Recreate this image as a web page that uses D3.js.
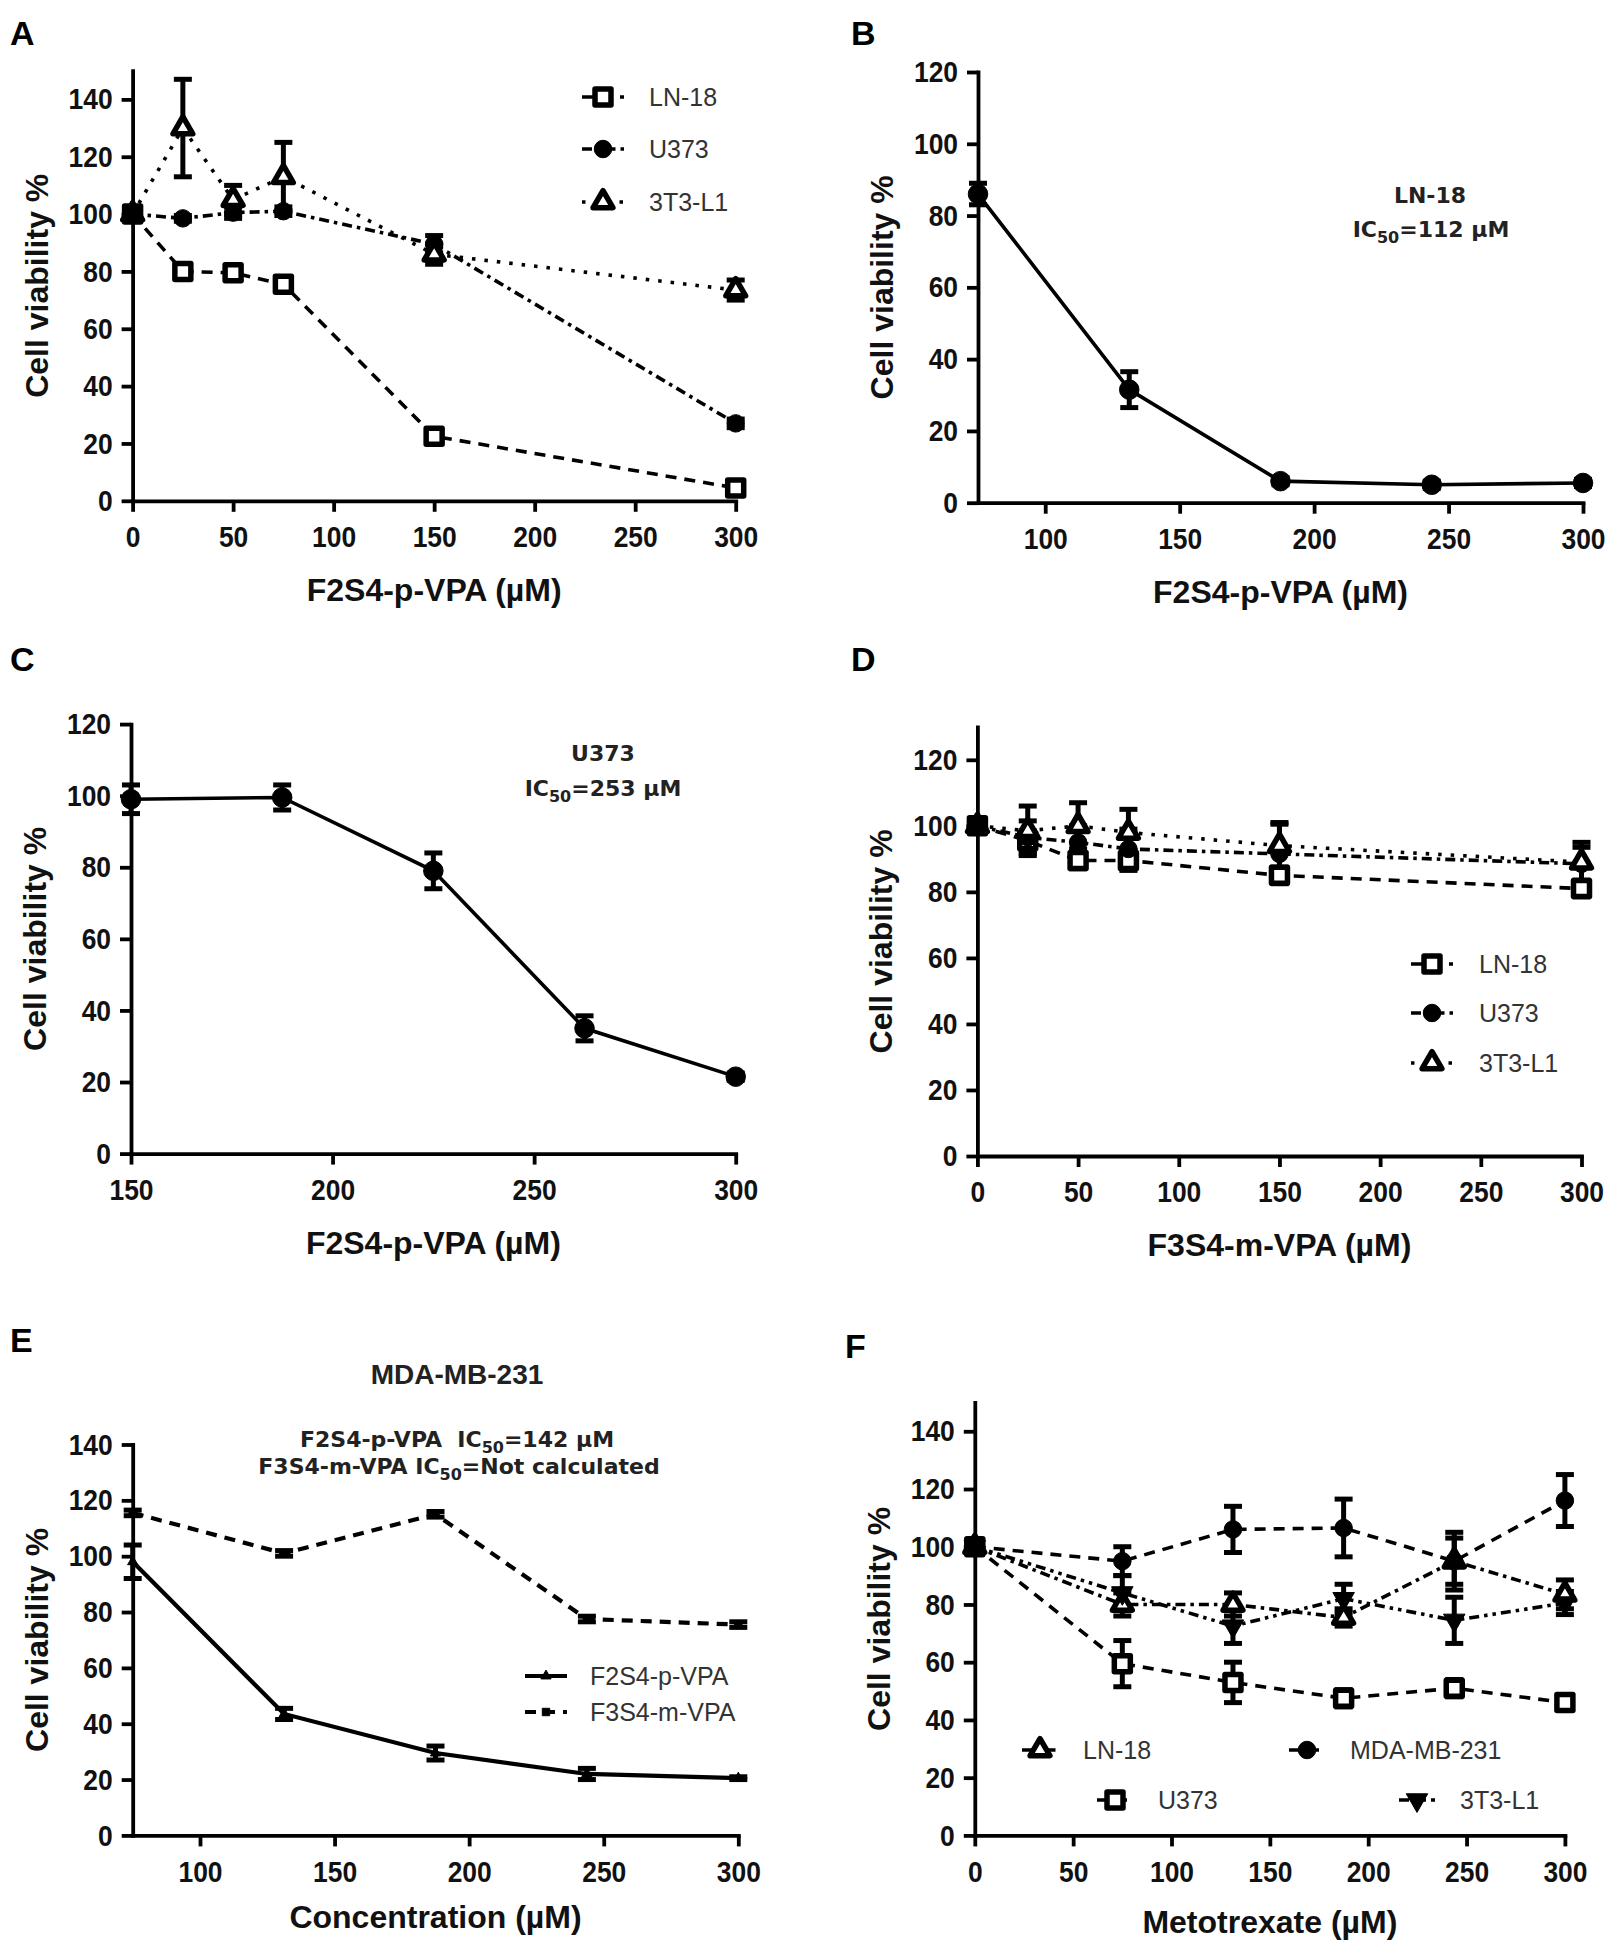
<!DOCTYPE html>
<html>
<head>
<meta charset="utf-8">
<script src="https://cdn.jsdelivr.net/npm/d3@7"></script>
<style>
  body { margin: 0; background: #fff; }
  svg { display: block; }
</style>
</head>
<body>
<svg id="fig" width="1622" height="1944"></svg>
<script>
// ---- data ----
// A: F2S4-p-VPA on three cell lines
var concA = [0, 25, 50, 75, 150, 300];
var aLN18 = [100, 80, 79.5, 75.5, 22.5, 4.5];
var aLN18Sem = [0, 2, 1.5, 2, 2.5, 1.5];
var aU373 = [100, 98.5, 100.5, 101, 89.5, 27];
var aU373Sem = [0, 1, 2, 1.5, 3, 1.5];
var a3T3 = [100, 130, 105, 113, 86, 73.5];
var a3T3Sem = [0, 17, 5, 12, 3.5, 3.5];

// B: LN-18
var concB = [75, 131.25, 187.5, 243.75, 300];
var bLN18 = [86, 31.5, 6, 5, 5.5];
var bLN18Sem = [3, 5, 1, 1, 1];

// C: U373
var concC = [150, 187.5, 225, 262.5, 300];
var cU373 = [99, 99.5, 79, 35, 21.5];
var cU373Sem = [4, 3.5, 5, 3.5, 1];

// D: F3S4-m-VPA on three cell lines
var concD = [0, 25, 50, 75, 150, 300];
var dLN18 = [100, 95.5, 89.5, 89.5, 85, 81];
var dLN18Sem = [0, 3, 2.5, 3, 2.5, 2.5];
var dU373 = [100, 96.5, 95, 93, 91.5, 88.5];
var dU373Sem = [0, 5, 5, 6, 9, 5];
var d3T3 = [100, 98.5, 100, 98, 94, 89];
var d3T3Sem = [0, 7.5, 7, 7, 7, 6];

// E: MDA-MB-231
var concE = [75, 131.25, 187.5, 243.75, 300];
var eF2S4 = [98, 43.5, 29.5, 22, 20.5];
var eF2S4Sem = [6, 2, 2.5, 2, 0.5];
var eF3S4 = [115.5, 101, 115, 77.5, 75.5];
var eF3S4Sem = [1, 1, 1, 1, 1];

// F: Metotrexate
var concF = [0, 75, 131.25, 187.5, 243.75, 300];
var fLN18 = [100, 80, 80, 75.5, 95, 83.5];
var fLN18Sem = [0, 4, 4, 3, 8, 5];
var fMDA = [100, 95, 106, 106.5, 95, 116];
var fMDASem = [0, 5, 8, 10, 10, 9];
var fU373 = [100, 59.5, 53, 47.5, 51, 46];
var fU373Sem = [0, 8, 7, 3, 3, 2];
var f3T3 = [100, 84, 72.5, 82, 74.5, 80.5];
var f3T3Sem = [0, 6, 6, 5, 8, 4];

var ticks0to300 = [0, 50, 100, 150, 200, 250, 300];
var ticks100to300 = [100, 150, 200, 250, 300];
var ticks150to300 = [150, 200, 250, 300];
var yTicks120 = [0, 20, 40, 60, 80, 100, 120];
var yTicks140 = [0, 20, 40, 60, 80, 100, 120, 140];

var FONT = '"Liberation Sans", Arial, Helvetica, sans-serif';
var NOTE_FONT = '"DejaVu Sans", Verdana, sans-serif';
var DASHED = "11,8", DASHDOT = "10,5,3.5,5", DOTTED = "3.5,9";
var NARROW = 0.88;   // tick labels in the figure are a condensed bold face

var svg = d3.select("#fig");

var symbolTypes = {
    square: d3.symbolSquare,
    circle: d3.symbolCircle,
    triangle: d3.symbolTriangle,
    down: d3.symbolTriangle
};

function addMarker(g, s, cx, cy, filled) {
    g.append("path")
        .attr("d", d3.symbol().type(symbolTypes[s.kind]).size(s.size || 300)())
        .attr("transform", "translate(" + cx + "," + cy + ")" + (s.kind == "down" ? " rotate(180)" : ""))
        .attr("fill", (s.open && !filled) ? "#fff" : "#000")
        .attr("stroke", "#000")
        .attr("stroke-linejoin", "round")
        .attr("stroke-width", s.open ? 5.5 : 1);
}

function drawPanel(p) {
    var x = d3.scaleLinear().domain(p.xDomain).range([p.left, p.right]);
    var y = d3.scaleLinear().domain(p.yDomain).range([p.bottom, p.top]);
    var g = svg.append("g");

    g.append("text").attr("x", p.letter[1]).attr("y", p.letter[2])
        .attr("font-family", FONT).attr("font-weight", "bold").attr("font-size", 34)
        .text(p.letter[0]);

    var gx = g.append("g").attr("transform", "translate(0," + p.bottom + ")")
        .call(d3.axisBottom(x).tickValues(p.xTicks).tickSize(11).tickSizeOuter(0).tickPadding(14).tickFormat(d3.format("d")));
    var gy = g.append("g").attr("transform", "translate(" + p.left + ",0)")
        .call(d3.axisLeft(y).tickValues(p.yTicks).tickSize(11).tickSizeOuter(0).tickPadding(9).tickFormat(d3.format("d")));
    g.selectAll(".domain").attr("stroke", "#000").attr("stroke-width", 3.8).attr("stroke-linecap", "square");
    g.selectAll(".tick line").attr("stroke", "#000").attr("stroke-width", 3.8);
    g.selectAll(".tick text").attr("font-family", FONT).attr("font-size", 30)
        .attr("font-weight", "bold").attr("fill", "#111")
        .attr("transform", "scale(" + NARROW + ",1)");
    gy.selectAll(".tick text").attr("x", -20 / NARROW);

    g.append("text")
        .attr("transform", "translate(" + (p.left - 85) + "," + ((p.top + p.bottom) / 2) + ") rotate(-90)")
        .attr("text-anchor", "middle").attr("font-family", FONT).attr("font-weight", "bold")
        .attr("font-size", 32).attr("fill", "#111").text("Cell viability %");
    g.append("text")
        .attr("x", (p.left + p.right) / 2).attr("y", p.bottom + (p.xTitleDy || 100))
        .attr("text-anchor", "middle").attr("font-family", FONT).attr("font-weight", "bold")
        .attr("font-size", 32).attr("fill", "#111").text(p.xTitle);

    var line = d3.line().x(function (d) { return x(d.x); }).y(function (d) { return y(d.y); });
    var rows = p.series.map(function (s) {
        return s.x.map(function (v, i) { return { x: v, y: s.y[i], e: s.sem[i] }; });
    });

    p.series.forEach(function (s, k) {
        g.append("path").datum(rows[k]).attr("d", line)
            .attr("fill", "none").attr("stroke", "#000")
            .attr("stroke-width", s.width || 3.6)
            .attr("stroke-dasharray", s.dash || null);
    });

    p.series.forEach(function (s, k) {
        rows[k].filter(function (d) { return d.e > 0; }).forEach(function (d) {
            var cx = x(d.x), y1 = y(d.y + d.e), y2 = y(d.y - d.e);
            g.append("line").attr("x1", cx).attr("x2", cx).attr("y1", y1).attr("y2", y2)
                .attr("stroke", "#000").attr("stroke-width", 5);
            [y1, y2].forEach(function (yy) {
                g.append("line").attr("x1", cx - 9).attr("x2", cx + 9).attr("y1", yy).attr("y2", yy)
                    .attr("stroke", "#000").attr("stroke-width", 5);
            });
        });
    });

    p.series.forEach(function (s, k) {
        rows[k].forEach(function (d) {
            addMarker(g, s, x(d.x), y(d.y), d.x === 0);
        });
    });

    if (p.legend) {
        p.legend.items.forEach(function (pos, k) {
            var s = p.series[k];
            g.append("line").attr("x1", pos[0] - p.legend.half).attr("x2", pos[0] + p.legend.half)
                .attr("y1", pos[1]).attr("y2", pos[1])
                .attr("stroke", "#000").attr("stroke-width", s.width || 3.6)
                .attr("stroke-dasharray", s.dash || null);
            addMarker(g, s, pos[0], pos[1], false);
            g.append("text").attr("x", pos[0] + p.legend.textDx).attr("y", pos[1] + 9)
                .attr("font-family", FONT).attr("font-size", 25).attr("fill", "#333")
                .text(s.label);
        });
    }

    (p.notes || []).forEach(function (n) {
        var t = g.append("text").attr("x", n.x).attr("y", n.y).attr("text-anchor", "middle")
            .attr("font-family", n.font || NOTE_FONT).attr("font-weight", "bold")
            .attr("font-size", n.size || 22).attr("fill", "#222");
        t.append("tspan").text(n.text);
        if (n.sub) {
            t.append("tspan").attr("font-size", 16).attr("dy", 6).text(n.sub);
            t.append("tspan").attr("dy", -6).text(n.rest);
        }
    });
}

drawPanel({
    letter: ["A", 10, 45],
    left: 132.6, right: 735.7, bottom: 500.8, top: 70.7,
    xDomain: [0, 300], yDomain: [0, 150], xTicks: ticks0to300, yTicks: yTicks140,
    xTitle: "F2S4-p-VPA (\u00b5M)",
    series: [
        { label: "LN-18", x: concA, y: aLN18, sem: aLN18Sem, kind: "square", open: true, size: 256, dash: DASHED },
        { label: "U373", x: concA, y: aU373, sem: aU373Sem, kind: "circle", size: 240, dash: DASHDOT },
        { label: "3T3-L1", x: concA, y: a3T3, sem: a3T3Sem, kind: "triangle", open: true, size: 170, dash: DOTTED }
    ],
    legend: { items: [[603, 97], [603, 149], [603, 202]], half: 21, textDx: 46 }
});

drawPanel({
    letter: ["B", 851, 45],
    left: 978, right: 1583, bottom: 502.7, top: 72,
    xDomain: [75, 300], yDomain: [0, 120], xTicks: ticks100to300, yTicks: yTicks120,
    xTitle: "F2S4-p-VPA (\u00b5M)",
    series: [
        { label: "LN-18", x: concB, y: bLN18, sem: bLN18Sem, kind: "circle", size: 300 }
    ],
    notes: [
        { x: 1430, y: 203, text: "LN-18" },
        { x: 1431, y: 237, text: "IC", sub: "50", rest: "=112 \u00b5M" }
    ]
});

drawPanel({
    letter: ["C", 10, 671],
    left: 131, right: 735.7, bottom: 1153.6, top: 724.1,
    xDomain: [150, 300], yDomain: [0, 120], xTicks: ticks150to300, yTicks: yTicks120,
    xTitle: "F2S4-p-VPA (\u00b5M)",
    series: [
        { label: "U373", x: concC, y: cU373, sem: cU373Sem, kind: "circle", size: 300 }
    ],
    notes: [
        { x: 603, y: 761, text: "U373" },
        { x: 603, y: 796, text: "IC", sub: "50", rest: "=253 \u00b5M" }
    ]
});

drawPanel({
    letter: ["D", 851, 671],
    left: 977.4, right: 1581.5, bottom: 1156, top: 726.8,
    xDomain: [0, 300], yDomain: [0, 130], xTicks: ticks0to300, yTicks: yTicks120,
    xTitle: "F3S4-m-VPA (\u00b5M)",
    series: [
        { label: "LN-18", x: concD, y: dLN18, sem: dLN18Sem, kind: "square", open: true, size: 256, dash: DASHED },
        { label: "U373", x: concD, y: dU373, sem: dU373Sem, kind: "circle", size: 240, dash: DASHDOT },
        { label: "3T3-L1", x: concD, y: d3T3, sem: d3T3Sem, kind: "triangle", open: true, size: 170, dash: DOTTED }
    ],
    legend: { items: [[1432, 964], [1432, 1013], [1432, 1063]], half: 21, textDx: 47 }
});

drawPanel({
    letter: ["E", 10, 1352],
    left: 132.7, right: 738.3, bottom: 1835.4, top: 1444.5,
    xDomain: [75, 300], yDomain: [0, 140], xTicks: ticks100to300, yTicks: yTicks140,
    xTitle: "Concentration (\u00b5M)", xTitleDy: 93,
    series: [
        { label: "F2S4-p-VPA", x: concE, y: eF2S4, sem: eF2S4Sem, kind: "triangle", size: 45, width: 4.2 },
        { label: "F3S4-m-VPA", x: concE, y: eF3S4, sem: eF3S4Sem, kind: "square", size: 55, width: 4.2, dash: DASHED }
    ],
    legend: { items: [[546, 1676], [546, 1712]], half: 21, textDx: 44 },
    notes: [
        { x: 457, y: 1384, text: "MDA-MB-231", size: 28, font: FONT },
        { x: 457, y: 1447, text: "F2S4-p-VPA\u00a0\u00a0IC", sub: "50", rest: "=142 \u00b5M" },
        { x: 459, y: 1474, text: "F3S4-m-VPA IC", sub: "50", rest: "=Not calculated" }
    ]
});

drawPanel({
    letter: ["F", 845, 1358],
    left: 974.8, right: 1564.9, bottom: 1835.4, top: 1402.4,
    xDomain: [0, 300], yDomain: [0, 150], xTicks: ticks0to300, yTicks: yTicks140,
    xTitle: "Metotrexate (\u00b5M)", xTitleDy: 98,
    series: [
        { label: "LN-18", x: concF, y: fLN18, sem: fLN18Sem, kind: "triangle", open: true, size: 170, dash: DASHDOT },
        { label: "MDA-MB-231", x: concF, y: fMDA, sem: fMDASem, kind: "circle", size: 240, dash: DASHED },
        { label: "U373", x: concF, y: fU373, sem: fU373Sem, kind: "square", open: true, size: 256, dash: DASHED },
        { label: "3T3-L1", x: concF, y: f3T3, sem: f3T3Sem, kind: "down", size: 200, dash: "10,5,3.5,5,3.5,5" }
    ],
    legend: { items: [[1040, 1750], [1307, 1750], [1115, 1800], [1417, 1800]], half: 18, textDx: 43 }
});
</script>
</body>
</html>
